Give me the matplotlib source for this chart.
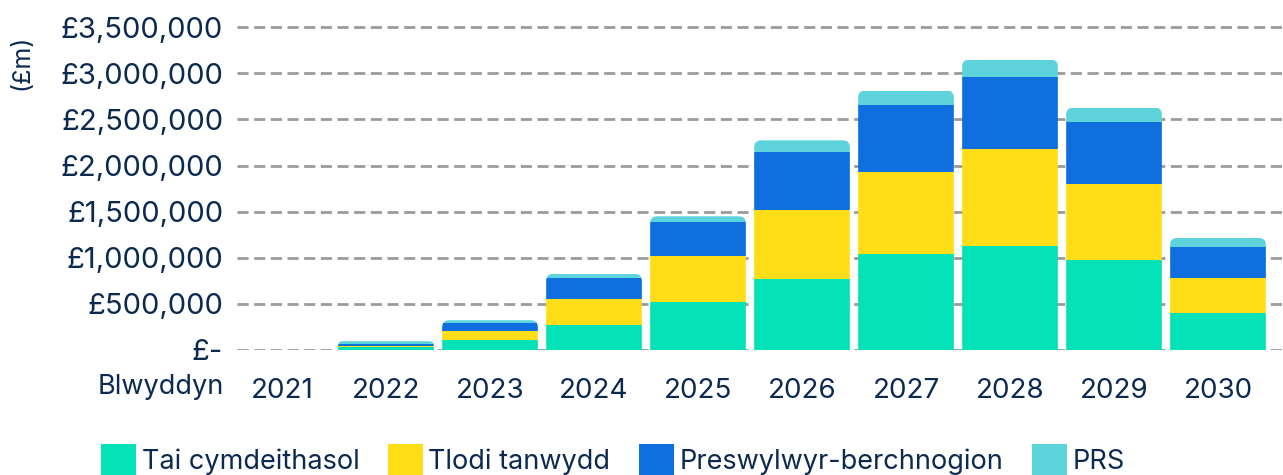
import matplotlib.pyplot as plt
import numpy as np
from matplotlib.patches import FancyBboxPatch

plt.rcParams['font.family'] = ['Inter', 'DejaVu Sans']

years = ['2021', '2022', '2023', '2024', '2025', '2026', '2027', '2028', '2029', '2030']
tai_cymdeithasol = [0, 30000, 112000, 275000, 524000, 774000, 1045000, 1132000, 980000, 405000]
tlodi_tanwydd = [0, 18000, 98000, 283000, 499000, 748000, 889000, 1052000, 824000, 380000]
preswylwyr = [0, 22000, 83000, 225000, 362000, 629000, 727000, 781000, 673000, 336000]
prs = [0, 25000, 30000, 43000, 65000, 123000, 152000, 184000, 151000, 94000]

series_names = ['Tai cymdeithasol', 'Tlodi tanwydd', 'Preswylwyr-berchnogion', 'PRS']
colours = ['#05E2B7', '#FFDD17', '#0F6FDE', '#5DD3DC']
yticks = [0, 500000, 1000000, 1500000, 2000000, 2500000, 3000000, 3500000]

text_col = '#0B2A4F'

fig = plt.figure(figsize=(12.83, 4.75), dpi=100)
ax = fig.add_axes([0.1847, 0.2632, 0.8153, 0.6988])
ax.set_xlim(-0.433, 9.625)
ax.set_ylim(0, 3600000)

x = np.arange(len(years))
width = 0.92
data = [tai_cymdeithasol, tlodi_tanwydd, preswylwyr, prs]

bottom = np.zeros(len(years))
bars = []
for vals, name, col in zip(data, series_names, colours):
    b = ax.bar(x, vals, width, bottom=bottom, color=col, label=name, zorder=3)
    bars.append(b)
    bottom += np.array(vals)
totals = bottom

# rounded tops: clip each stack to a rounded box
fig_w, fig_h = fig.get_size_inches() * fig.dpi
pos = ax.get_position()
px_per_x = pos.width * fig_w / (ax.get_xlim()[1] - ax.get_xlim()[0])
y_per_px = (ax.get_ylim()[1] - ax.get_ylim()[0]) / (pos.height * fig_h)
aspect = y_per_px * px_per_x
r = 7 / px_per_x
for i in range(len(years)):
    if totals[i] <= 0:
        continue
    rr = min(r, totals[i] / 2 / aspect)
    extra = 20 * y_per_px
    clip = FancyBboxPatch((x[i] - width / 2, -extra), width, totals[i] + extra,
                          boxstyle='round,pad=0,rounding_size=%f' % rr,
                          mutation_aspect=aspect, transform=ax.transData,
                          facecolor='none', edgecolor='none')
    ax.add_patch(clip)
    for b in bars:
        b[i].set_clip_path(clip)

ax.set_yticks(yticks)
ax.set_yticklabels(['£-' if v == 0 else '£{:,.0f}'.format(v) for v in yticks])
ax.set_xticks(x)
ax.set_xticklabels(years)
ax.tick_params(axis='both', length=0, labelcolor=text_col)
ax.tick_params(axis='y', pad=10, labelsize=21)
ax.tick_params(axis='x', pad=20, labelsize=20)

ax.grid(axis='y', color='#9B9B9B', linestyle=(0, (4, 2)), linewidth=2, zorder=0)
ax.set_axisbelow(True)
for s in ax.spines.values():
    s.set_visible(False)

fig.text(98 / 1283, 1 - 387 / 475, 'Blwyddyn', fontsize=19.5, color=text_col,
         ha='left', va='center')
fig.text(22 / 1283, 1 - 62 / 475, '(£m)', fontsize=18, color=text_col,
         rotation=90, ha='center', va='center')

leg = fig.legend(loc='upper left', bbox_to_anchor=(101 / 1283, 1 - 444 / 475), ncol=4,
                 frameon=False, fontsize=19.5, handlelength=1.3, handleheight=1.4,
                 handletextpad=0.2, columnspacing=1.05, borderpad=0, borderaxespad=0)
for t in leg.get_texts():
    t.set_color(text_col)

fig.savefig('out.png', dpi=100)
